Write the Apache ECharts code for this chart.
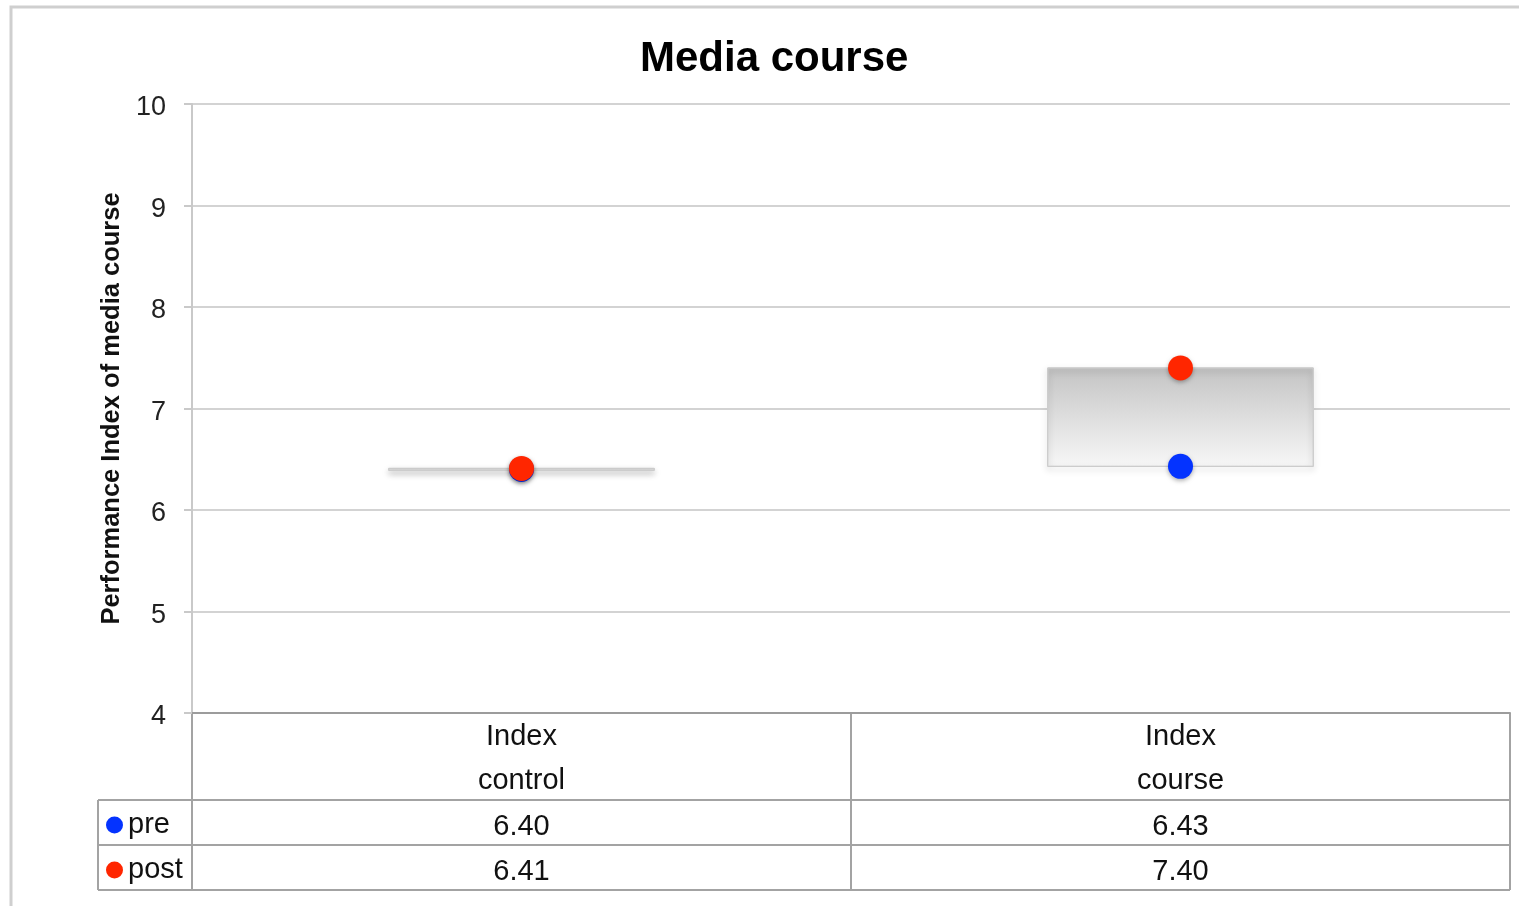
<!DOCTYPE html>
<html>
<head>
<meta charset="utf-8">
<title>Media course</title>
<script src="https://cdn.jsdelivr.net/npm/echarts@6/dist/echarts.min.js"></script>
<style>
  html, body { margin: 0; padding: 0; background: #fff; }
  #chart { width: 1519px; height: 906px; }
</style>
</head>
<body>
<div id="chart"></div>
<script>
// data
const categories = ['Index\ncontrol', 'Index\ncourse'];
const preValues = [6.40, 6.43];
const postValues = [6.41, 7.40];
const seriesNames = ['pre', 'post'];
const yTicks = [4, 5, 6, 7, 8, 9, 10];

const FONT = 'Liberation Sans, Arial, Helvetica, sans-serif';
const gridLeft = 192, gridRight = 1510, gridTop = 104, gridBottom = 713;
const rowLines = [800, 845, 890];
const tableLeft = 98;
const tableLine = '#a3a3a3';

const chartDom = document.getElementById('chart');
const myChart = echarts.init(chartDom, null, { renderer: 'canvas' });

const options = {
    animation: false,
    title: {
        text: 'Media course',
        left: 640,
        top: 38,
        padding: 0,
        textStyle: { fontFamily: FONT, fontSize: 42, fontWeight: 'bold', color: '#000' }
    },
    legend: {
        orient: 'vertical',
        left: 106,
        top: 810,
        padding: 0,
        itemWidth: 17,
        itemHeight: 17,
        itemGap: 15,
        icon: 'circle',
        data: seriesNames,
        textStyle: { fontFamily: FONT, fontSize: 29, color: '#111', lineHeight: 30 }
    },
    grid: {
        left: gridLeft,
        right: 1519 - gridRight,
        top: gridTop,
        bottom: 906 - gridBottom,
        outerBoundsMode: 'none'
    },
    xAxis: {
        type: 'category',
        data: categories,
        axisTick: { show: false },
        axisLine: { lineStyle: { color: '#9c9c9c', width: 2 } },
        axisLabel: {
            margin: 2,
            fontFamily: FONT,
            fontSize: 29,
            lineHeight: 44,
            color: '#111'
        },
        splitLine: { show: false }
    },
    yAxis: {
        type: 'value',
        min: yTicks[0],
        max: yTicks[yTicks.length - 1],
        interval: 1,
        name: 'Performance Index of media course',
        nameLocation: 'middle',
        nameGap: 65,
        nameTextStyle: { fontFamily: FONT, fontSize: 25.5, fontWeight: 'bold', color: '#111' },
        axisLine: { show: true, lineStyle: { color: '#c9c9c9', width: 2 } },
        axisTick: { show: true, length: 8, lineStyle: { color: '#c9c9c9', width: 2 } },
        axisLabel: {
            margin: 26,
            formatter: '{v|{value}}',
            rich: { v: { fontFamily: FONT, fontSize: 27, color: '#222', padding: [8, 0, 0, 0] } }
        },
        splitLine: { lineStyle: { color: '#d3d3d3', width: 2 } }
    },
    series: [
        {
            type: 'custom',
            name: 'range',
            z: 1,
            data: categories.map((c, i) => [i, preValues[i], postValues[i]]),
            renderItem: (params, api) => {
                const a = api.coord([api.value(0), api.value(1)]);
                const b = api.coord([api.value(0), api.value(2)]);
                const bw = api.size([1, 0])[0] * 0.403;
                const top = Math.min(a[1], b[1]);
                const h = Math.max(Math.abs(a[1] - b[1]), 2);
                return {
                    type: 'rect',
                    shape: { x: a[0] - bw / 2, y: top, width: bw, height: h },
                    style: {
                        fill: new echarts.graphic.LinearGradient(0, 0, 0, 1, [
                            { offset: 0, color: '#c4c4c4' },
                            { offset: 1, color: '#f7f7f7' }
                        ]),
                        stroke: '#cccccc',
                        lineWidth: 1,
                        shadowBlur: 6,
                        shadowOffsetY: 3,
                        shadowColor: 'rgba(0,0,0,0.25)'
                    }
                };
            }
        },
        {
            type: 'scatter',
            name: 'pre',
            z: 3,
            symbolSize: 25,
            itemStyle: { color: '#0433ff', opacity: 1, shadowBlur: 4, shadowOffsetY: 2, shadowColor: 'rgba(0,0,0,0.3)' },
            data: preValues.map((v, i) => [i, v])
        },
        {
            type: 'scatter',
            name: 'post',
            z: 4,
            symbolSize: 25,
            itemStyle: { color: '#ff2600', opacity: 1, shadowBlur: 4, shadowOffsetY: 2, shadowColor: 'rgba(0,0,0,0.3)' },
            data: postValues.map((v, i) => [i, v])
        }
    ]
};

myChart.setOption(options);

// data table under the axis, laid out from the category axis
const colCenters = categories.map((c, i) => myChart.convertToPixel({ xAxisIndex: 0 }, i));
const band = colCenters[1] - colCenters[0];
const colEdges = [colCenters[0] - band / 2].concat(colCenters.map(x => x + band / 2));

const tableGraphics = [];
colEdges.forEach(x => {
    tableGraphics.push({
        type: 'line',
        shape: { x1: x, y1: gridBottom, x2: x, y2: rowLines[2] },
        style: { stroke: tableLine, lineWidth: 2 }
    });
});
tableGraphics.push({
    type: 'line',
    shape: { x1: tableLeft, y1: rowLines[0], x2: tableLeft, y2: rowLines[2] },
    style: { stroke: tableLine, lineWidth: 2 }
});
rowLines.forEach(y => {
    tableGraphics.push({
        type: 'line',
        shape: { x1: tableLeft, y1: y, x2: colEdges[colEdges.length - 1], y2: y },
        style: { stroke: tableLine, lineWidth: 2 }
    });
});
[preValues, postValues].forEach((vals, r) => {
    vals.forEach((v, i) => {
        tableGraphics.push({
            type: 'text',
            x: colCenters[i],
            y: (rowLines[r] + rowLines[r + 1]) / 2 + 4,
            style: {
                text: v.toFixed(2),
                fontFamily: FONT,
                fontSize: 29,
                fill: '#111',
                align: 'center',
                verticalAlign: 'middle'
            }
        });
    });
});
// outer frame
tableGraphics.push({
    type: 'polyline',
    shape: { points: [[11, 906], [11, 7], [1519, 7]] },
    style: { stroke: '#cfcfcf', lineWidth: 3, fill: null }
});

myChart.setOption({ graphic: tableGraphics });

window.addEventListener('resize', () => {
    myChart.resize();
});
</script>
</body>
</html>
